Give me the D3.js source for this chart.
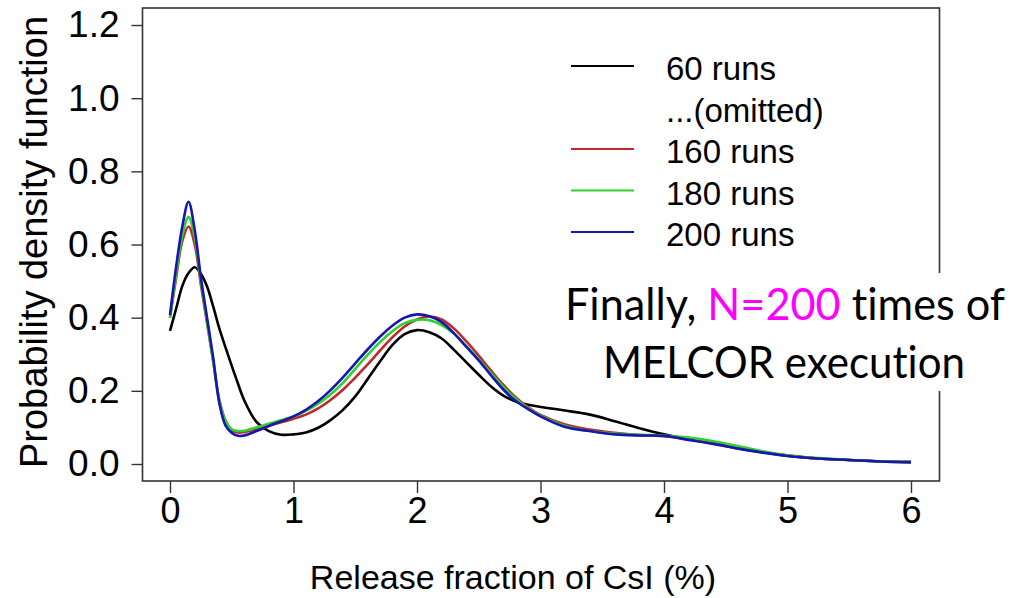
<!DOCTYPE html>
<html>
<head>
<meta charset="utf-8">
<script src="https://cdn.jsdelivr.net/npm/d3@7"></script>
<style>
  body { margin: 0; background: #fff; }
</style>
</head>
<body>
<div id="chart"></div>
<script>
// release fraction grid (%)
const xs = [0, 0.05, 0.1, 0.15, 0.2, 0.25, 0.3, 0.35, 0.4, 0.45, 0.5, 0.55, 0.6, 0.7, 0.8, 0.9,
  1.0, 1.1, 1.2, 1.3, 1.4, 1.5, 1.6, 1.7, 1.8, 1.9, 2.0, 2.1, 2.2, 2.3, 2.4, 2.5, 2.6, 2.7, 2.8, 2.9,
  3.0, 3.2, 3.4, 3.6, 3.8, 4.0, 4.2, 4.4, 4.6, 4.8, 5.0, 5.25, 5.5, 5.75, 6.0]

const runs60 = [0.364, 0.425, 0.487, 0.522, 0.538, 0.52, 0.485, 0.43, 0.37, 0.318, 0.268, 0.22, 0.175, 0.115, 0.09, 0.08,
  0.081, 0.086, 0.099, 0.12, 0.148, 0.185, 0.232, 0.28, 0.325, 0.355, 0.366, 0.36, 0.343, 0.312, 0.278, 0.244, 0.212, 0.187, 0.171, 0.162,
  0.156, 0.146, 0.135, 0.117, 0.098, 0.081, 0.068, 0.056, 0.043, 0.032, 0.023, 0.015, 0.011, 0.007, 0.005]

const runs160 = [0.40, 0.51, 0.61, 0.649, 0.6, 0.49, 0.385, 0.28, 0.175, 0.118, 0.093, 0.086, 0.087, 0.095, 0.105, 0.114,
  0.124, 0.135, 0.152, 0.175, 0.203, 0.236, 0.272, 0.31, 0.346, 0.376, 0.395, 0.403, 0.395, 0.37, 0.335, 0.296, 0.255, 0.216, 0.182, 0.155,
  0.134, 0.108, 0.094, 0.085, 0.079, 0.076, 0.068, 0.057, 0.045, 0.033, 0.023, 0.015, 0.011, 0.007, 0.005]

const runs180 = [0.40, 0.52, 0.625, 0.675, 0.62, 0.5, 0.39, 0.28, 0.172, 0.118, 0.095, 0.09, 0.091, 0.1, 0.11, 0.12,
  0.13, 0.145, 0.165, 0.19, 0.222, 0.26, 0.298, 0.333, 0.363, 0.385, 0.394, 0.393, 0.38, 0.356, 0.322, 0.286, 0.248, 0.21, 0.178, 0.152,
  0.132, 0.104, 0.09, 0.083, 0.08, 0.078, 0.072, 0.062, 0.049, 0.035, 0.024, 0.016, 0.011, 0.007, 0.005]

const runs200 = [0.407, 0.54, 0.65, 0.717, 0.64, 0.51, 0.40, 0.29, 0.165, 0.105, 0.085, 0.077, 0.078, 0.09, 0.104, 0.117,
  0.13, 0.148, 0.172, 0.202, 0.237, 0.275, 0.313, 0.348, 0.378, 0.40, 0.409, 0.404, 0.388, 0.357, 0.32, 0.283, 0.242, 0.203, 0.172, 0.15,
  0.13, 0.101, 0.09, 0.081, 0.078, 0.077, 0.066, 0.055, 0.042, 0.031, 0.022, 0.015, 0.011, 0.007, 0.005]

const seriesColors = ["#000000", "#c0282a", "#2ed12e", "#1616b0"]
const seriesValues = [runs60, runs160, runs180, runs200]

const legendLabels = ["60 runs", "...(omitted)", "160 runs", "180 runs", "200 runs"]
const legendColors = ["#000000", null, "#c0282a", "#2ed12e", "#1616b0"]

const xTicks = [0, 1, 2, 3, 4, 5, 6]
const yTicks = [0.0, 0.2, 0.4, 0.6, 0.8, 1.0, 1.2]

const width = 1019
const height = 598
const sansFont = "'Liberation Sans', Arial, sans-serif"
const noteFont = "Lato, 'Open Sans', sans-serif"

let svg = d3.select("#chart")
            .append("svg")
            .attr("width", width)
            .attr("height", height)

let xScale = d3.scaleLinear().domain([0, 6]).range([170, 911])
let yScale = d3.scaleLinear().domain([0, 1.2]).range([464, 25])

// plot box (R style, padded 4%)
const boxL = 142.5, boxR = 939.5, boxT = 8, boxB = 481
svg.append("rect")
   .attr("x", boxL).attr("y", boxT)
   .attr("width", boxR - boxL).attr("height", boxB - boxT)
   .attr("fill", "none")
   .attr("stroke", "#333")
   .attr("stroke-width", 1.6)

// x axis
let xAxis = d3.axisBottom(xScale)
              .tickValues(xTicks)
              .tickFormat(d3.format("d"))
              .tickSizeInner(12)
              .tickSizeOuter(0)
              .tickPadding(4)
let gx = svg.append("g")
            .attr("transform", `translate(0, ${boxB})`)
            .call(xAxis)
gx.select(".domain").remove()
gx.selectAll("line").attr("stroke", "#333").attr("stroke-width", 1.4)
gx.selectAll("text")
  .style("font-size", "36px")
  .style("font-family", sansFont)
  .attr("fill", "#000")

// y axis
let yAxis = d3.axisLeft(yScale)
              .tickValues(yTicks)
              .tickFormat(d3.format(".1f"))
              .tickSizeInner(11)
              .tickSizeOuter(0)
              .tickPadding(12)
let gy = svg.append("g")
            .attr("transform", `translate(${boxL}, 0)`)
            .call(yAxis)
gy.select(".domain").remove()
gy.selectAll("line").attr("stroke", "#333").attr("stroke-width", 1.4)
gy.selectAll("text")
  .style("font-size", "37px")
  .style("font-family", sansFont)
  .attr("fill", "#000")

// axis titles
svg.append("text")
   .attr("x", 513)
   .attr("y", 589)
   .attr("text-anchor", "middle")
   .style("font-family", sansFont)
   .style("font-size", "34px")
   .text("Release fraction of CsI (%)")

svg.append("text")
   .attr("transform", "translate(47, 242) rotate(-90)")
   .attr("text-anchor", "middle")
   .style("font-family", sansFont)
   .style("font-size", "38px")
   .text("Probability density function")

// density curves
let line = d3.line()
             .x(d => xScale(d[0]))
             .y(d => yScale(d[1]))
             .curve(d3.curveCatmullRom.alpha(0.5))

seriesValues.forEach(function(vals, i) {
  svg.append("path")
     .datum(xs.map((x, j) => [x, vals[j]]))
     .attr("fill", "none")
     .attr("stroke", seriesColors[i])
     .attr("stroke-width", 2.6)
     .attr("stroke-linejoin", "round")
     .attr("d", line)
})

// legend
let legend = svg.append("g").attr("id", "legend")
legendLabels.forEach(function(lab, i) {
  let ly = 66 + i * 41.5
  if (legendColors[i]) {
    legend.append("line")
          .attr("x1", 571).attr("x2", 634)
          .attr("y1", ly).attr("y2", ly)
          .attr("stroke", legendColors[i])
          .attr("stroke-width", 2)
  }
  legend.append("text")
        .attr("x", 666)
        .attr("y", ly + 14)
        .style("font-family", sansFont)
        .style("font-size", "33px")
        .text(lab)
})

// annotation box over the right edge
svg.append("rect")
   .attr("x", 548).attr("y", 273)
   .attr("width", 466).attr("height", 118)
   .attr("fill", "#fff")

let note1 = svg.append("text")
               .attr("x", 785)
               .attr("y", 320)
               .attr("text-anchor", "middle")
               .style("font-family", noteFont)
               .style("font-size", "44px")
               .style("font-variant-ligatures", "none")
               .attr("textLength", 440)
               .attr("lengthAdjust", "spacingAndGlyphs")
note1.append("tspan").text("Finally, ")
note1.append("tspan").style("fill", "#ff00ff").text("N=200")
note1.append("tspan").text(" times of")

svg.append("text")
   .attr("x", 784)
   .attr("y", 378)
   .attr("text-anchor", "middle")
   .style("font-family", noteFont)
   .style("font-size", "44px")
   .style("font-variant-ligatures", "none")
   .attr("textLength", 362)
   .attr("lengthAdjust", "spacingAndGlyphs")
   .text("MELCOR execution")
</script>
</body>
</html>
